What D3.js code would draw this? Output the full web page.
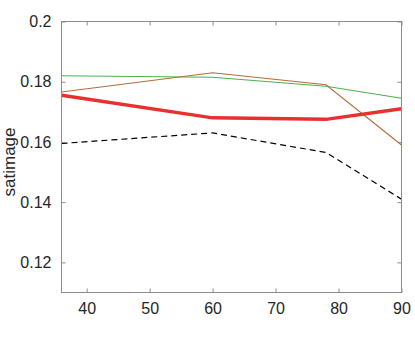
<!DOCTYPE html>
<html><head><meta charset="utf-8">
<script src="https://cdn.jsdelivr.net/npm/d3@7"></script>
<style>body{margin:0;background:#fff;}svg{display:block;font-family:"Liberation Sans",Arial,sans-serif;}</style>
</head><body><svg id="c" width="415" height="340"></svg>
<script>
const xs = [36, 60, 78, 90];
const green = [0.182, 0.1815, 0.1785, 0.1745];
const brown = [0.1766, 0.183, 0.179, 0.159];
const red = [0.1755, 0.168, 0.1675, 0.171];
const black = [0.1595, 0.163, 0.1565, 0.141];
const xTicks = [40, 50, 60, 70, 80, 90];
const yTicks = [0.12, 0.14, 0.16, 0.18, 0.2];
const yLabel = "satimage";

const svg = d3.select("#c");
const L = 61.5, R = 401.5, T = 21.5, B = 292.5;
const x = d3.scaleLinear().domain([36, 90]).range([L, R]);
const y = d3.scaleLinear().domain([0.11, 0.2]).range([B, T]);
const axisCol = "#8c8c8c", textCol = "#262626";

const line = d3.line().x((d, i) => x(xs[i])).y(d => y(d));
const g = svg.append("g");
const series = [
  {v: black, c: "#000", w: 1.2, dash: "6,4"},
  {v: green, c: "#4db14a", w: 1.1},
  {v: brown, c: "#b86a3c", w: 1.1},
  {v: red, c: "#e8302f", w: 3.5}
];
series.forEach(s => {
  g.append("path").datum(s.v).attr("d", line).attr("fill", "none")
   .attr("stroke", s.c).attr("stroke-width", s.w)
   .attr("stroke-dasharray", s.dash || null);
});

svg.append("rect").attr("x", L).attr("y", T).attr("width", R - L).attr("height", B - T)
  .attr("fill", "none").attr("stroke", axisCol).attr("stroke-width", 1);

const styleAxis = (sel) => {
  sel.select(".domain").remove();
  sel.selectAll(".tick line").attr("stroke", axisCol);
  sel.selectAll(".tick text").attr("fill", textCol).style("font-size", "16px");
};
svg.append("g").attr("transform", `translate(0,${B})`)
  .call(d3.axisBottom(x).tickValues(xTicks).tickSize(-4).tickPadding(10).tickFormat(d3.format("d")))
  .call(styleAxis);
svg.append("g").attr("transform", `translate(0,${T})`)
  .call(d3.axisTop(x).tickValues(xTicks).tickSize(-4).tickFormat(""))
  .call(styleAxis);
svg.append("g").attr("transform", `translate(${L},0)`)
  .call(d3.axisLeft(y).tickValues(yTicks).tickSize(-4).tickPadding(10).tickFormat(d => d3.format("")(+d.toFixed(2))))
  .call(styleAxis);
svg.append("g").attr("transform", `translate(${R},0)`)
  .call(d3.axisRight(y).tickValues(yTicks).tickSize(-4).tickFormat(""))
  .call(styleAxis);

svg.append("text").attr("transform", `translate(15,${162}) rotate(-90)`)
  .attr("text-anchor", "middle").attr("fill", textCol).style("font-size", "17px").text(yLabel);
</script></body></html>
